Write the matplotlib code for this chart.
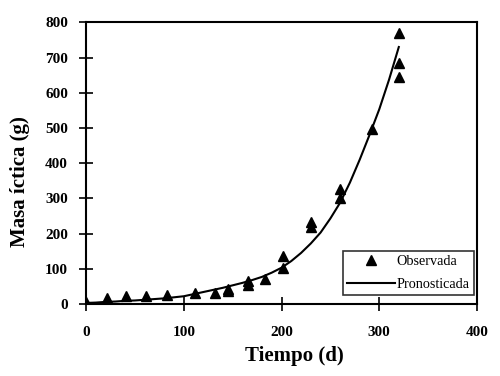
import matplotlib
matplotlib.use("Agg")
from matplotlib import pyplot as plt

# observed data (days, grams)
t_obs = [0, 21, 41, 61, 83, 111, 132, 145, 145, 166, 166, 183, 202, 202,
         230, 230, 260, 260, 293, 320, 320, 320]
m_obs = [5, 18, 22, 22, 25, 30, 32, 36, 42, 55, 64, 72, 103, 136,
         218, 232, 300, 328, 497, 646, 684, 770]

# predicted curve
t_pred = [0, 10, 20, 30, 40, 50, 60, 70, 80, 90, 100, 110, 120, 130, 140, 150,
          160, 170, 180, 190, 200, 210, 220, 230, 240, 250, 260, 270, 280,
          290, 300, 310, 320]
m_pred = [3, 4, 6, 7, 9, 10, 12, 14, 16, 19, 22, 28, 34, 40, 46, 53,
          60, 68, 77, 89, 103, 122, 145, 172, 203, 243, 288, 345, 410,
          480, 553, 637, 730]

x_ticks = [0, 100, 200, 300, 400]
y_ticks = [0, 100, 200, 300, 400, 500, 600, 700, 800]

plt.rcParams['font.family'] = ['Liberation Serif', 'DejaVu Serif']

fig = plt.figure(figsize=(5, 3.76), dpi=100)
ax = fig.add_axes([0.172, 0.1915, 0.782, 0.749])

ax.plot(t_obs, m_obs, linestyle='none', marker='^', color='black',
        markersize=7.5, label='Observada')
ax.plot(t_pred, m_pred, color='black', linewidth=1.5, label='Pronosticada')

ax.set_xlim(0, 400)
ax.set_ylim(0, 800)
ax.set_xticks(x_ticks)
ax.set_yticks(y_ticks)
for lab in ax.get_xticklabels() + ax.get_yticklabels():
    lab.set_fontweight('bold')
ax.tick_params(axis='both', labelsize=11, direction='inout', length=10,
               width=1.2, colors='black')
ax.tick_params(axis='x', pad=11)
ax.tick_params(axis='y', pad=8)
for s in ax.spines.values():
    s.set_linewidth(1.5)

ax.set_xlabel('Tiempo (d)', fontsize=15, fontweight='bold', va='center')
ax.set_ylabel('Masa íctica (g)', fontsize=15, fontweight='bold', va='center')
ax.xaxis.set_label_coords(0.532, -0.185)
ax.yaxis.set_label_coords(-0.169, 0.433)

leg = ax.legend(loc='lower right', bbox_to_anchor=(0.992, 0.032), fontsize=10.2,
                frameon=True, fancybox=False, edgecolor='black',
                handlelength=3.4, handletextpad=0.1, borderpad=0.3,
                borderaxespad=0, labelspacing=0.7)
leg.get_frame().set_linewidth(1.2)

fig.savefig('out.png', dpi=100)
